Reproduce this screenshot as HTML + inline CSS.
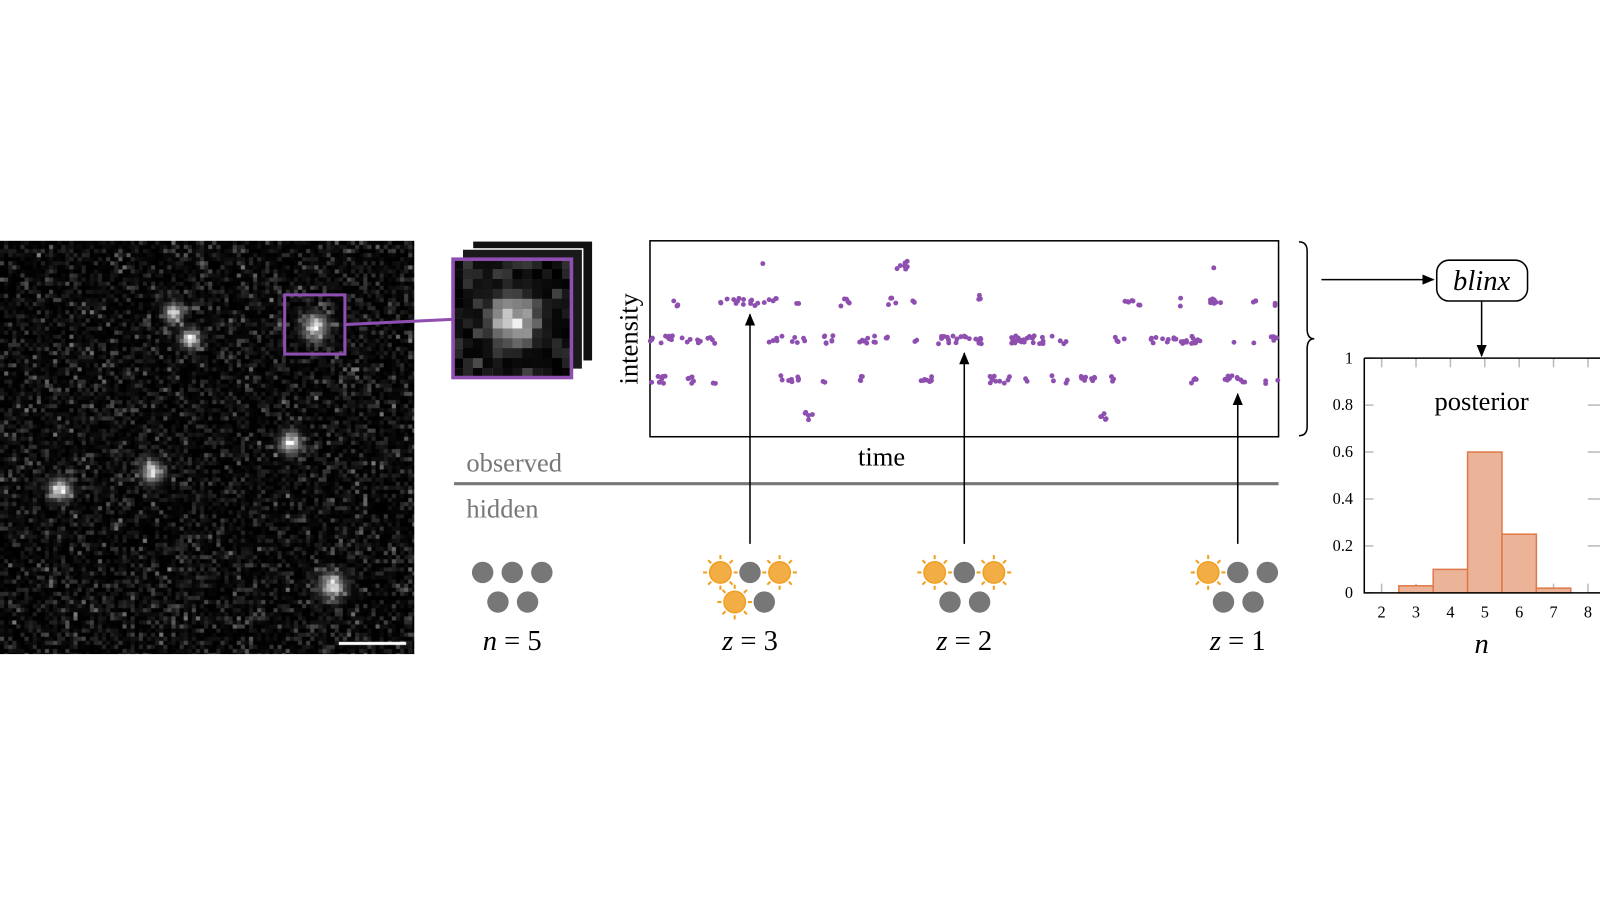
<!DOCTYPE html>
<html><head><meta charset="utf-8"><style>
html,body{margin:0;padding:0;background:#fff;width:1600px;height:900px;overflow:hidden}
#wrap{position:absolute;left:0;top:0;width:1568px;height:882px;transform:scale(1.0204);transform-origin:0 0}
#c{position:absolute;left:0;top:236px}
svg{position:absolute;left:0;top:0}
text{font-family:"Liberation Serif","DejaVu Serif",serif}
</style></head><body>
<div id="wrap">
<canvas id="c" width="406" height="405"></canvas>
<svg id="s" width="1568" height="882" viewBox="0 0 1568 882">
<defs>
<marker id="ah" markerWidth="12" markerHeight="10" refX="11" refY="5" orient="auto" markerUnits="userSpaceOnUse"><path d="M0,0 L12,5 L0,10 Z" fill="#000"/></marker>
<g id="sun"><g stroke="#f0a020" stroke-width="2">
<line x1="0" y1="-17" x2="0" y2="-13"/><line x1="0" y1="17" x2="0" y2="13"/><line x1="-17" y1="0" x2="-13" y2="0"/><line x1="17" y1="0" x2="13" y2="0"/>
<line x1="-12" y1="-12" x2="-9" y2="-9"/><line x1="12" y1="12" x2="9" y2="9"/><line x1="-12" y1="12" x2="-9" y2="9"/><line x1="12" y1="-12" x2="9" y2="-9"/></g>
<circle r="10.5" fill="#f3ad45" stroke="#f0a020" stroke-width="1.5"/></g>
<circle id="dot" r="10.5" fill="#777"/>
</defs>
<rect x="463" y="236" width="118" height="118" fill="#111" stroke="#fff" stroke-width="1.5"/>
<rect x="453" y="244" width="118" height="118" fill="#1a1a1a" stroke="#fff" stroke-width="1.5"/>
<g id="zoomimg"></g>
<rect x="444" y="254" width="116" height="116" fill="none" stroke="#8e4fb0" stroke-width="3.5"/>
<rect x="279" y="289" width="59" height="58" fill="none" stroke="#8e4fb0" stroke-width="3"/>
<line x1="339" y1="318" x2="443" y2="313" stroke="#8e4fb0" stroke-width="3"/>
<rect x="637" y="236" width="616" height="192" fill="none" stroke="#000" stroke-width="1.5"/>
<g id="pts" fill="#8e4fb0"></g>
<text x="625" y="332" font-size="26" text-anchor="middle" transform="rotate(-90 625 332)">intensity</text>
<text x="864" y="456" font-size="26" text-anchor="middle">time</text>
<text x="457" y="462" font-size="26" fill="#777">observed</text>
<line x1="445" y1="474" x2="1253" y2="474" stroke="#777" stroke-width="3"/>
<text x="457" y="507" font-size="26" fill="#777">hidden</text>
<line x1="735" y1="533" x2="735" y2="308" stroke="#000" stroke-width="1.5" marker-end="url(#ah)"/>
<line x1="945" y1="533" x2="945" y2="346" stroke="#000" stroke-width="1.5" marker-end="url(#ah)"/>
<line x1="1213" y1="533" x2="1213" y2="386" stroke="#000" stroke-width="1.5" marker-end="url(#ah)"/>
<use href="#dot" x="473" y="561"/><use href="#dot" x="502" y="561"/><use href="#dot" x="531" y="561"/><use href="#dot" x="488" y="590"/><use href="#dot" x="517" y="590"/>
<use href="#sun" x="706" y="561"/><use href="#dot" x="735" y="561"/><use href="#sun" x="764" y="561"/><use href="#sun" x="720" y="590"/><use href="#dot" x="749" y="590"/>
<use href="#sun" x="916" y="561"/><use href="#dot" x="945" y="561"/><use href="#sun" x="974" y="561"/><use href="#dot" x="931" y="590"/><use href="#dot" x="960" y="590"/>
<use href="#sun" x="1184" y="561"/><use href="#dot" x="1213" y="561"/><use href="#dot" x="1242" y="561"/><use href="#dot" x="1199" y="590"/><use href="#dot" x="1228" y="590"/>
<g font-size="28" text-anchor="middle">
<text x="502" y="637"><tspan font-style="italic">n</tspan> = 5</text>
<text x="735" y="637"><tspan font-style="italic">z</tspan> = 3</text>
<text x="945" y="637"><tspan font-style="italic">z</tspan> = 2</text>
<text x="1213" y="637"><tspan font-style="italic">z</tspan> = 1</text>
</g>
<path d="M1273,237 Q1281,237 1281,246 L1281,322 Q1281,332 1288,332 Q1281,332 1281,342 L1281,418 Q1281,427 1273,427" fill="none" stroke="#000" stroke-width="1.5"/>
<line x1="1295" y1="274" x2="1405" y2="274" stroke="#000" stroke-width="1.5" marker-end="url(#ah)"/>
<rect x="1408" y="255" width="89" height="40" rx="12" fill="#fff" stroke="#000" stroke-width="1.5"/>
<text x="1452" y="284" font-size="28" font-style="italic" text-anchor="middle">blinx</text>
<line x1="1452" y1="295" x2="1452" y2="349" stroke="#000" stroke-width="1.5" marker-end="url(#ah)"/>
<g id="hist"></g>
<text x="1452" y="402" font-size="26" text-anchor="middle">posterior</text>
<text x="1452" y="640" font-size="28" font-style="italic" text-anchor="middle">n</text>
</svg>
</div>
<script>
var c=document.getElementById('c').getContext('2d');
var W=406,H=405,px=4;
function rnd(s){return function(){s=(s*9301+49297)%233280;return s/233280;}}
var r=rnd(7);
var spots=[[168,305,6],[185,330,6],[307,318,8],[283,432,7],[147,460,7],[57,478,7],[324,572,8]];
for(var y=0;y<H;y+=px)for(var x=0;x<W;x+=px){
 var v=r()*r()*r()*140;
 for(var i=0;i<spots.length;i++){var dx=x-spots[i][0],dy=y+236-spots[i][1];v+=240*Math.exp(-(dx*dx+dy*dy)/(2*spots[i][2]*spots[i][2]))*(0.7+0.3*r());}
 v=Math.min(255,v|0);c.fillStyle='rgb('+v+','+v+','+v+')';c.fillRect(x,y,px,px);}
c.fillStyle='#fff';c.fillRect(332,393,66,3);
var ns='http://www.w3.org/2000/svg';
function el(p,t,a){var e=document.createElementNS(ns,t);for(var k in a)e.setAttribute(k,a[k]);p.appendChild(e);return e;}
var z=document.getElementById('zoomimg');
for(var j=0;j<12;j++)for(var i=0;i<12;i++){
 var dx=i-5.5,dy=j-5.5;var v=r()*r()*90+220*Math.exp(-(dx*dx+dy*dy)/5)*(0.7+0.3*r());v=Math.min(255,v|0);
 el(z,'rect',{x:444+i*9.7,y:254+j*9.7,width:9.8,height:9.8,fill:'rgb('+v+','+v+','+v+')'});}
var P=document.getElementById('pts');
var cl=[[662,296,3,4],[732,296,26,16],[758,296,3,3],[782,296,2,2],[828,296,5,5],[874,296,4,4],[895,296,2,2],[958,293,3,3],[1110,296,8,8],[1158,296,2,2],[1192,296,6,7],[1230,296,3,3],[1250,296,2,2],
[747,256,1,1],[884,260,6,7],[1190,261,1,1],
[670,333,34,20],[770,333,22,10],[810,333,10,7],[855,333,16,12],[898,333,2,2],[942,333,24,22],[1022,333,33,28],[1097,333,5,4],[1152,333,28,24],[1210,333,1,1],[1237,333,15,6],
[646,372,8,7],[678,372,4,5],[700,372,2,2],[774,372,10,8],[808,372,2,2],[845,372,2,4],[908,372,6,8],[980,372,10,10],[1006,372,2,2],[1032,372,2,2],[1045,372,2,2],[1067,372,9,8],[1090,372,2,3],[1170,372,6,4],[1210,372,12,10],[1240,372,2,2],[1252,372,1,1],
[793,408,4,5],[1080,408,5,5]];
for(var k=0;k<cl.length;k++){var q=cl[k];for(var n=0;n<q[3];n++){
 el(P,'circle',{cx:q[0]+(r()*2-1)*q[2],cy:q[1]+(r()*2-1)*4,r:2.4});}}
var h=document.getElementById('hist');
var x0=1354,sp=33.7,yb=581,sc=230;
function X(n){return x0+(n-2)*sp;}
for(var n=2;n<=8;n++){el(h,'line',{x1:X(n),y1:yb,x2:X(n),y2:yb-9,stroke:'#bbb','stroke-width':1.5});el(h,'line',{x1:X(n),y1:351,x2:X(n),y2:360,stroke:'#bbb','stroke-width':1.5});
 var t=el(h,'text',{x:X(n),y:605,'font-size':16,'text-anchor':'middle'});t.textContent=n;}
var ys=[0,0.2,0.4,0.6,0.8,1],yl=['0','0.2','0.4','0.6','0.8','1'];
for(var i=0;i<6;i++){var yy=yb-ys[i]*sc;el(h,'line',{x1:1337,y1:yy,x2:1346,y2:yy,stroke:'#bbb','stroke-width':1.5});el(h,'line',{x1:1556,y1:yy,x2:1568,y2:yy,stroke:'#bbb','stroke-width':1.5});
 var t=el(h,'text',{x:1326,y:yy+5,'font-size':16,'text-anchor':'end'});t.textContent=yl[i];}
var b=[[3,0.03],[4,0.1],[5,0.6],[6,0.25],[7,0.02]];
for(var i=0;i<b.length;i++){el(h,'rect',{x:X(b[i][0])-sp/2,y:yb-b[i][1]*sc,width:sp,height:b[i][1]*sc,fill:'#ebb398',stroke:'#e07a4a','stroke-width':1.5});}
el(h,'path',{d:'M1337,351 L1337,581 L1568,581 M1337,351 L1568,351',fill:'none',stroke:'#000','stroke-width':1.5});
</script>
</body></html>
